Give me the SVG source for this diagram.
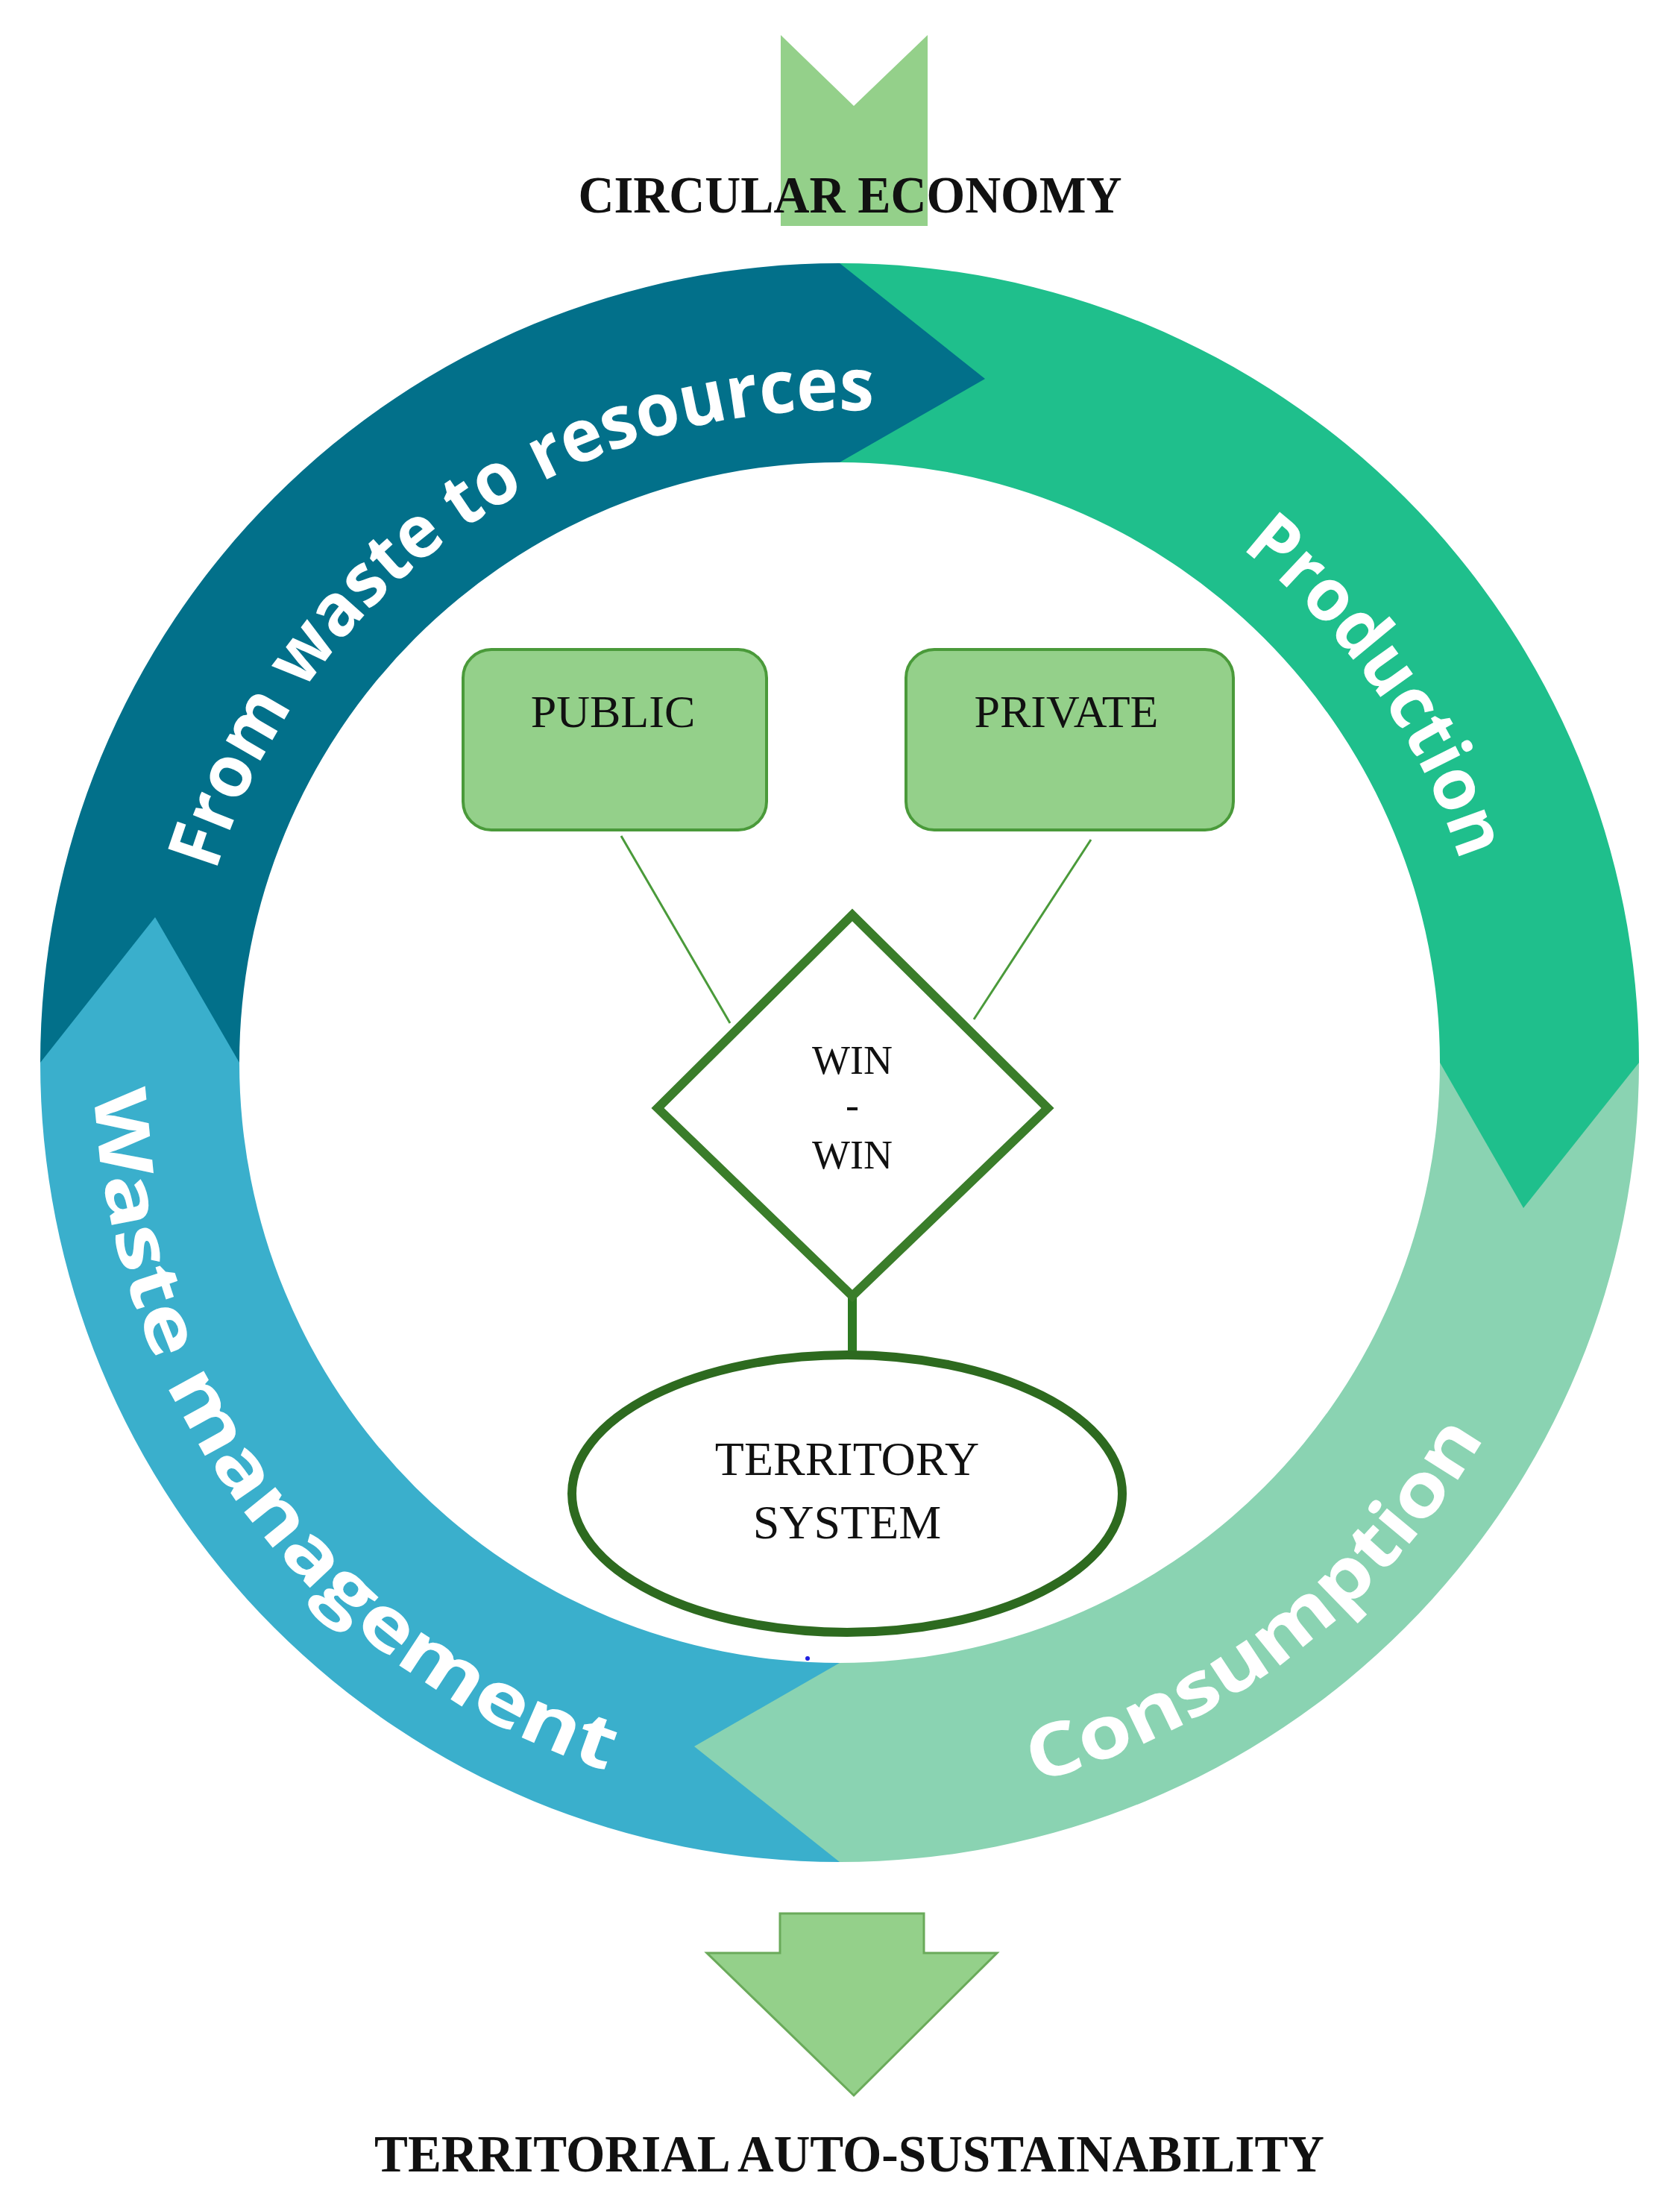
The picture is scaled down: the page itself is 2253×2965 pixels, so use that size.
<svg xmlns="http://www.w3.org/2000/svg" width="2253" height="2965" viewBox="0 0 2253 2965">
<style>
.ring{font-family:"Open Sans","DejaVu Sans",sans-serif;font-weight:bold;font-size:98px;fill:#ffffff}
.lbl{font-family:"Liberation Serif",serif;fill:#111;text-anchor:middle}
.box{fill:#94d08a;stroke:#4a9a3a;stroke-width:4}
.conn{stroke:#4a9a3a;stroke-width:3;fill:none}
</style>
<defs>
<path id="tpFrom" d="M254.3,1348.7 A875,875 0 0 1 1352.5,579.8"/>
<path id="tpProd" d="M1425.3,602.8 A875,875 0 0 1 2001,1425"/>
<path id="tpCons" d="M1038.8,2421.2 A1000,1000 0 0 0 2110.8,1598.6"/>
<path id="tpWaste" d="M141.2,1251.4 A1000,1000 0 0 0 1021.5,2419.5"/>
</defs>
<rect width="2253" height="2965" fill="#ffffff"/>
<g id="ring">
<path d="M54,1425 A1072,1072 0 0 1 1126,353 L1126,620 A805,805 0 0 0 321,1425 Z" fill="#02708a"/>
<path d="M1126,353 A1072,1072 0 0 1 2198,1425 L1931,1425 A805,805 0 0 0 1126,620 Z" fill="#1fbf8c"/>
<path d="M2198,1425 A1072,1072 0 0 1 1126,2497 L1126,2230 A805,805 0 0 0 1931,1425 Z" fill="#8ad3b2"/>
<path d="M1126,2497 A1072,1072 0 0 1 54,1425 L321,1425 A805,805 0 0 0 1126,2230 Z" fill="#3aafcc"/>
<polygon points="1126,353 1321,508 1126,620" fill="#02708a"/>
<polygon points="2198,1425 2043,1620 1931,1425" fill="#1fbf8c"/>
<polygon points="1126,2497 931,2342 1126,2230" fill="#8ad3b2"/>
<polygon points="54,1425 208,1230 321,1425" fill="#3aafcc"/>
<text class="ring"><textPath href="#tpFrom" startOffset="50%" text-anchor="middle" textLength="1160" lengthAdjust="spacingAndGlyphs">From waste to resources</textPath></text>
<text class="ring"><textPath href="#tpProd" startOffset="50%" text-anchor="middle" textLength="520" lengthAdjust="spacingAndGlyphs">Production</textPath></text>
<text class="ring"><textPath href="#tpCons" startOffset="50%" text-anchor="middle" textLength="780" lengthAdjust="spacingAndGlyphs">Consumption</textPath></text>
<text class="ring"><textPath href="#tpWaste" startOffset="50%" text-anchor="middle" textLength="1215" lengthAdjust="spacingAndGlyphs">Waste management</textPath></text>
</g>
<g id="top-arrow">
<polygon points="1047,47 1145,142 1244,47 1244,303 1047,303" fill="#94d08a"/>
<text class="lbl" x="1140" y="285" font-size="70" font-weight="bold" textLength="729" lengthAdjust="spacingAndGlyphs">CIRCULAR ECONOMY</text>
</g>
<g id="connectors">
<line class="conn" x1="833" y1="1121" x2="979" y2="1372"/>
<line class="conn" x1="1463" y1="1126" x2="1306" y2="1367"/>
<line x1="1143" y1="1738" x2="1143" y2="1820" stroke="#2d7a22" stroke-width="12"/>
</g>
<g id="public">
<rect class="box" x="621" y="871" width="407" height="242" rx="38"/>
<text class="lbl" x="822" y="975" font-size="62">PUBLIC</text>
</g>
<g id="private">
<rect class="box" x="1215" y="871" width="439" height="242" rx="38"/>
<text class="lbl" x="1430" y="975" font-size="62">PRIVATE</text>
</g>
<g id="winwin">
<polygon points="1143,1227 1405,1486 1143,1738 882,1486" fill="#ffffff" stroke="#3a7d2a" stroke-width="12"/>
<text class="lbl" x="1143" y="1440" font-size="54">WIN</text>
<text class="lbl" x="1143" y="1500" font-size="54">-</text>
<text class="lbl" x="1143" y="1567" font-size="54">WIN</text>
</g>
<g id="territory">
<ellipse cx="1136" cy="2003" rx="369" ry="186" fill="#ffffff" stroke="#2d6a1f" stroke-width="12"/>
<text class="lbl" x="1136" y="1978" font-size="64">TERRITORY</text>
<text class="lbl" x="1136" y="2063" font-size="64">SYSTEM</text>
<circle cx="1083" cy="2224" r="3" fill="#2020e0"/>
</g>
<g id="bottom-arrow">
<polygon points="1046,2566 1239,2566 1239,2619 1337,2619 1145,2810 948,2619 1046,2619" fill="#94d08a" stroke="#6aaa5a" stroke-width="3"/>
<text class="lbl" x="1139" y="2912" font-size="70" font-weight="bold" textLength="1274" lengthAdjust="spacingAndGlyphs">TERRITORIAL AUTO-SUSTAINABILITY</text>
</g>
</svg>
